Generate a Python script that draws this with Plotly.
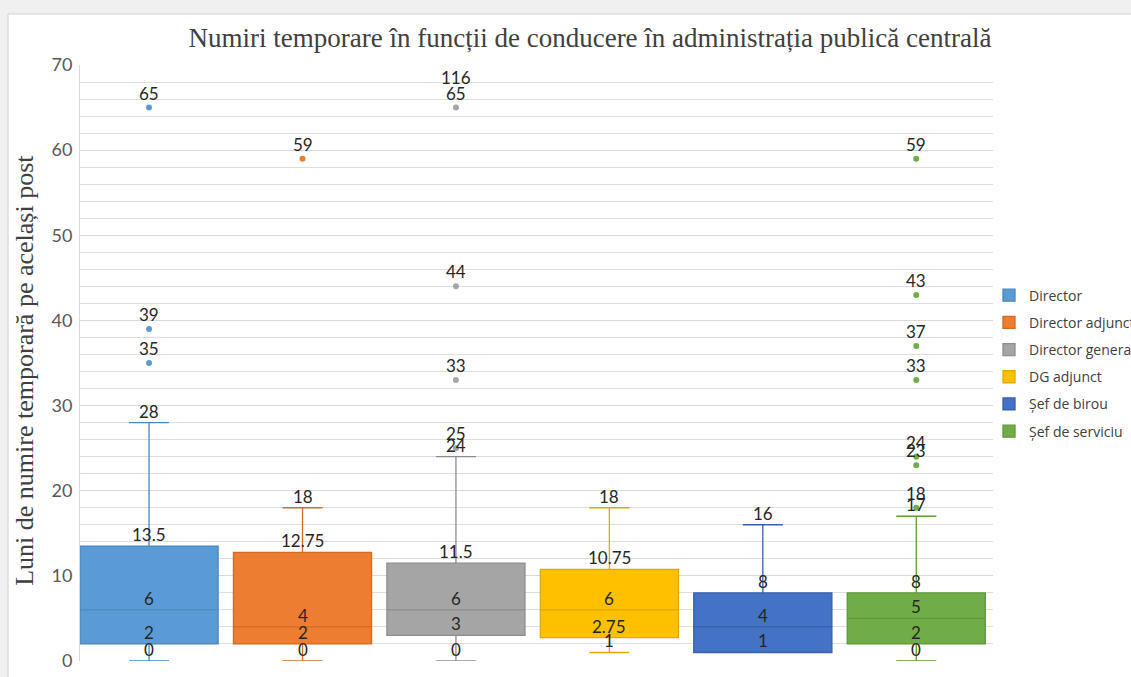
import plotly.graph_objects as go

categories = ["Director", "Director adjunct", "Director general", "DG adjunct", "Șef de birou", "Șef de serviciu"]
mins = [0, 0, 0, 1, 1, 0]
q1s = [2, 2, 3, 2.75, 1, 2]
medians = [6, 4, 6, 6, 4, 5]
q3s = [13.5, 12.75, 11.5, 10.75, 8, 8]
maxs = [28, 18, 24, 18, 16, 17]
outliers = [
    [35, 39, 65],
    [59],
    [25, 33, 44, 65, 116],
    [],
    [],
    [18, 23, 24, 33, 37, 43, 59],
]
colors = ["#5B9BD5", "#ED7D31", "#A5A5A5", "#FFC000", "#4472C4", "#70AD47"]
edge_colors = ["#4A87BF", "#D26A22", "#8E8E8E", "#E0A800", "#3560AE", "#5E9A38"]

Y_MAX = 70
LABEL_FONT = dict(family="Lato, 'Noto Sans', sans-serif", size=17, color="#262626")

fig = go.Figure()

for i, cat in enumerate(categories):
    fig.add_trace(go.Box(
        x=[cat], q1=[q1s[i]], median=[medians[i]], q3=[q3s[i]],
        lowerfence=[mins[i]], upperfence=[maxs[i]],
        name=cat, legendgroup=cat,
        fillcolor=colors[i], line=dict(color=edge_colors[i], width=1.3),
        width=0.9, whiskerwidth=0.29, boxpoints=False, hoverinfo="skip",
    ))
    if outliers[i]:
        vis = [v for v in outliers[i] if v <= Y_MAX]
        fig.add_trace(go.Scatter(
            x=[cat] * len(vis), y=vis, mode="markers",
            marker=dict(color=colors[i], size=6),
            showlegend=False, legendgroup=cat, hoverinfo="skip",
        ))

annotations = []
for i, cat in enumerate(categories):
    vals = []
    for v in [mins[i], q1s[i], medians[i], q3s[i], maxs[i]]:
        if v not in vals:
            vals.append(v)
    for v in vals:
        annotations.append(dict(x=cat, y=v, xref="x", yref="y", text=str(v),
                                showarrow=False, yanchor="bottom", yshift=-1,
                                font=LABEL_FONT))
    for v in outliers[i]:
        if v <= Y_MAX:
            annotations.append(dict(x=cat, y=v, xref="x", yref="y", text=str(v),
                                    showarrow=False, yanchor="bottom", yshift=2,
                                    font=LABEL_FONT))
        else:
            annotations.append(dict(x=cat, y=Y_MAX, xref="x", yref="y", text=str(v),
                                    showarrow=False, yanchor="top", yshift=0,
                                    font=LABEL_FONT))

annotations.append(dict(
    x=-0.0602, y=0.487, xref="paper", yref="paper",
    text="Luni de numire temporară pe același post", textangle=-90,
    showarrow=False, xanchor="center", yanchor="middle",
    font=dict(family="'Liberation Serif', 'Times New Roman', serif", size=26, color="#404040"),
))

fig.update_layout(
    width=1131, height=677,
    margin=dict(l=80, r=138, t=65, b=16, autoexpand=False),
    paper_bgcolor="#f0f0f0",
    plot_bgcolor="rgba(0,0,0,0)",
    boxmode="overlay",
    title=dict(
        text="Numiri temporare în funcții de conducere în administrația publică centrală",
        x=590 / 1131, xref="container", xanchor="center",
        y=1 - 38 / 677, yref="container", yanchor="middle",
        font=dict(family="'Liberation Serif', 'Times New Roman', serif", size=27, color="#404040"),
    ),
    xaxis=dict(
        type="category", categoryorder="array", categoryarray=categories,
        range=[-0.45, 5.5], showticklabels=False, showgrid=False, zeroline=False,
        showline=False, ticks="",
    ),
    yaxis=dict(
        range=[0, Y_MAX], dtick=10, showgrid=True, gridcolor="#d9d9d9", gridwidth=1,
        minor=dict(dtick=2, showgrid=True, gridcolor="#dedede", gridwidth=1),
        zeroline=False, showline=True, linecolor="#d9d9d9", linewidth=1,
        ticks="outside", ticklen=3, tickcolor="rgba(0,0,0,0)",
        tickfont=dict(family="Lato, 'Noto Sans', sans-serif", size=18, color="#595959"),
    ),
    legend=dict(
        x=(989 - 80) / 913, xanchor="left", y=0.64, yanchor="top",
        font=dict(family="'Open Sans', 'Noto Sans', sans-serif", size=14, color="#404040"),
        tracegroupgap=6, bgcolor="rgba(0,0,0,0)",
    ),
    annotations=annotations,
    shapes=[dict(type="rect", xref="paper", yref="paper",
                 x0=(8 - 80) / 913, x1=1.3, y0=-0.2, y1=(661 - 14) / 596,
                 fillcolor="white", line=dict(color="#d0d0d0", width=1), layer="below")],
)

fig.write_html("out.html", config={"displayModeBar": False},
               post_script="document.body.style.margin='0';")
